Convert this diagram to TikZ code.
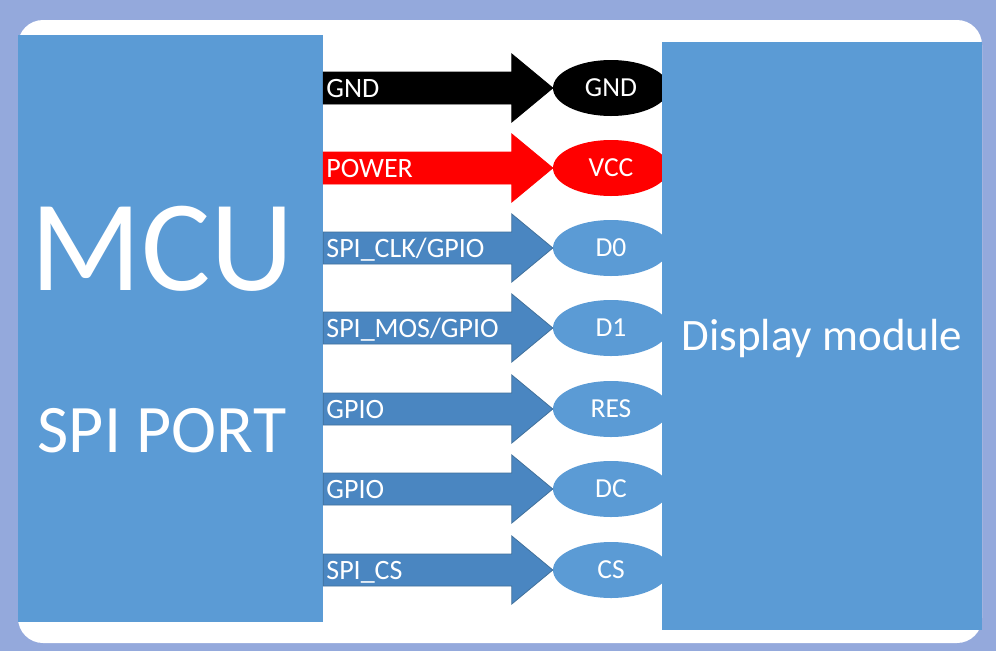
\documentclass[tikz,border=0pt]{standalone}
\usepackage{fontspec}
\setmainfont{Carlito}
\usetikzlibrary{shapes.geometric,calc}
\definecolor{bgblue}{HTML}{94A9DC}
\definecolor{boxblue}{HTML}{5B9BD5}
\definecolor{arrowblue}{HTML}{4A86C1}
\definecolor{arrowline}{HTML}{41719C}
\begin{document}
\begin{tikzpicture}[x=1pt, y=-1pt,
        block/.style={fill=boxblue, draw=none, inner sep=0pt},
        bigtext/.style={text=white, inner sep=0pt, anchor=base},
        pin/.style={ellipse, minimum width=116pt, minimum height=56pt, inner sep=0pt,
                    text=white, font=\fontsize{27.5}{30}\selectfont},
        siglabel/.style={anchor=base west, inner sep=0pt, text=white,
                    font=\fontsize{28}{30}\selectfont}]
        % Background and white panel
        \fill[bgblue] (0,0) rectangle (996,651);
        \fill[white, rounded corners=25pt] (18,20) rectangle (982,643);
        \useasboundingbox (0,0) rectangle (996,651);

        % MCU block
        \node[block, minimum width=305pt, minimum height=587pt] (mcu) at (170.5,328.5) {};
        \node[bigtext, font=\fontsize{130}{132}\selectfont] (mcutitle) at (162,290) {MCU};
        \node[bigtext, font=\fontsize{68}{72}\selectfont] (spiport) at (162,452) {SPI PORT};

        % Signal arrows and module pins
        \foreach \ypos/\sig/\pinname/\pinlab/\fillcol/\linecol in {
                88/GND/gnd/GND/black/black,
                168/POWER/vcc/VCC/red/red,
                248/{SPI\_CLK/GPIO}/dzero/D0/arrowblue/arrowline,
                328/{SPI\_MOS/GPIO}/done/D1/arrowblue/arrowline,
                409/GPIO/res/RES/arrowblue/arrowline,
                489/GPIO/dc/DC/arrowblue/arrowline,
                570/SPI\_CS/cs/CS/arrowblue/arrowline}{
            \ifx\fillcol\linecol\def\pincol{\fillcol}\else\def\pincol{boxblue}\fi
            \node[pin, fill=\pincol] (\pinname) at (611,\ypos) {\pinlab};
            \coordinate (\pinname-tail) at (mcu.east |- \pinname);
            \filldraw[fill=\fillcol, draw=\linecol, line width=0.8pt]
                ($(\pinname-tail)+(0,-16)$) -- ($(\pinname.west)+(-41,-16)$)
                -- ($(\pinname.west)+(-41,-34)$) -- (\pinname.west)
                -- ($(\pinname.west)+(-41,34)$) -- ($(\pinname.west)+(-41,16)$)
                -- ($(\pinname-tail)+(0,16)$) -- cycle;
            \node[siglabel] (\pinname-lab) at ($(\pinname-tail)+(3,9)$) {\sig};
        }

        % Display module block
        \node[block, minimum width=320pt, minimum height=588pt] (display) at (822,336) {};
        \node[bigtext, font=\fontsize{45}{48}\selectfont] (displaytitle) at (822,350) {Display module};
    \end{tikzpicture}
\end{document}
